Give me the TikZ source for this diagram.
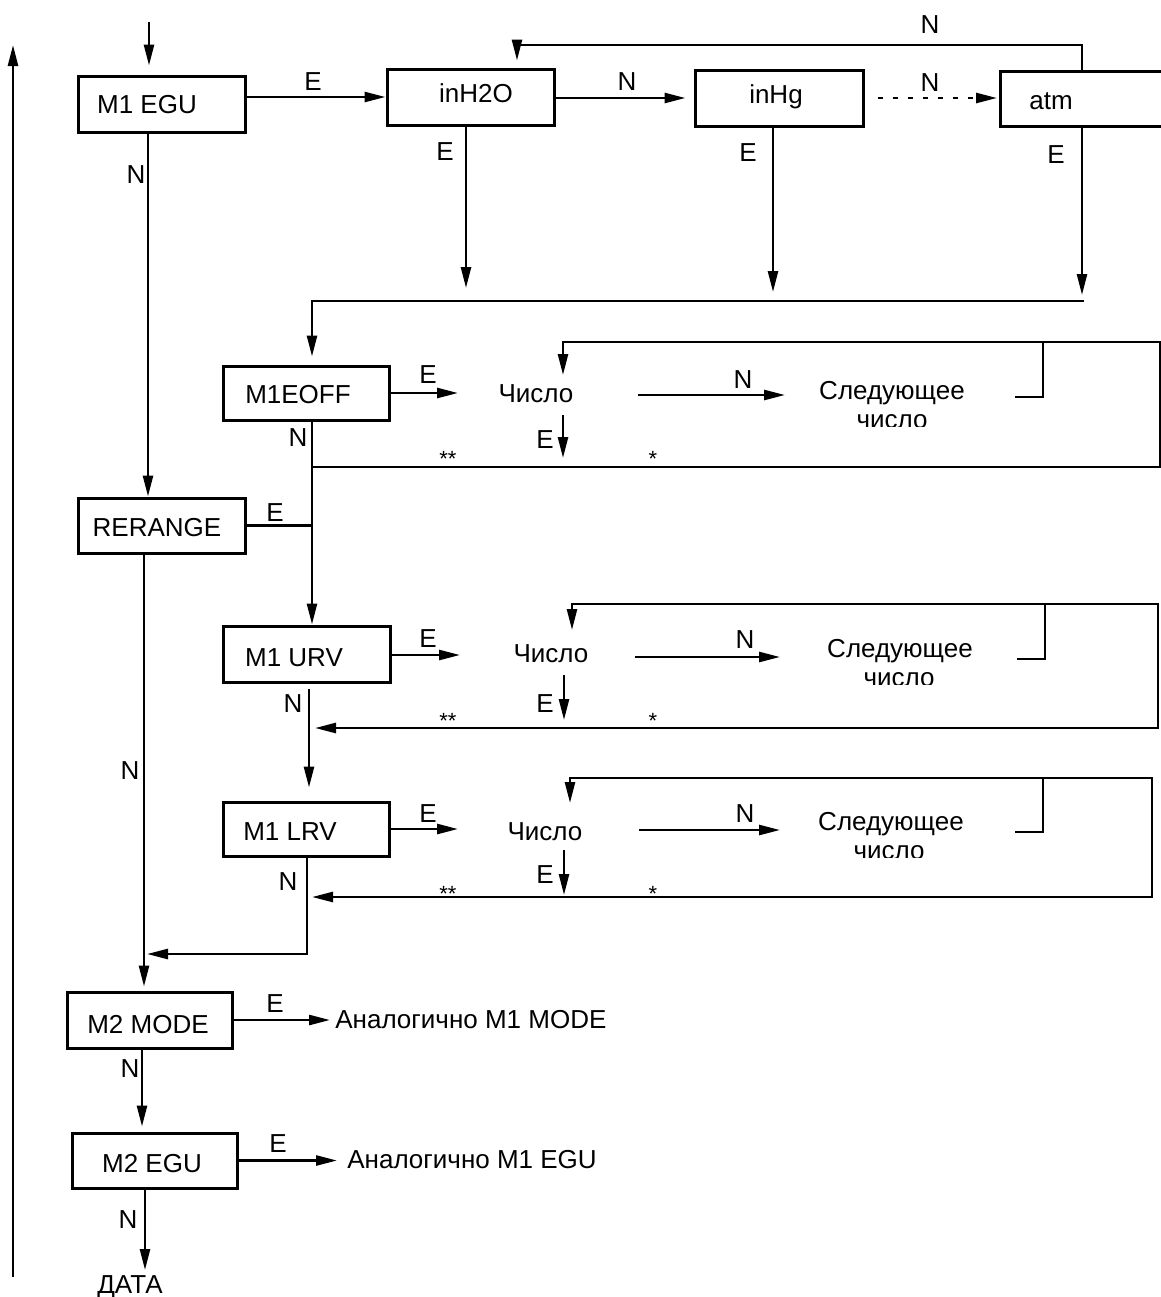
\documentclass[tikz,border=0pt]{standalone}
\usepackage{fontspec}
\setmainfont{Liberation Sans}
\usetikzlibrary{arrows.meta,calc}
\begin{document}
\begin{tikzpicture}[x=0.5pt,y=-0.5pt,
  box/.style={draw,line width=1.5pt,inner sep=0pt},
  txt/.style={inner sep=0pt,anchor=base,font=\fontsize{13pt}{15pt}\selectfont},
  star/.style={inner sep=0pt,anchor=base,font=\fontsize{11pt}{12pt}\selectfont},
  ln/.style={line width=1.3pt},
  arr/.style={line width=1.3pt,-{Triangle[length=10.5pt,width=5pt]}},
  dots/.style={dash pattern=on 2.5pt off 5pt}
]
\useasboundingbox (0,0) rectangle (1161,1297);

% ---------- boxes ----------
\node[box,minimum width=83.5pt,minimum height=28pt] (egu) at (161.5,104) {};
\node[txt] (tegu) at (147,113) {M1 EGU};
\node[box,minimum width=83.5pt,minimum height=28pt] (inh) at (470.5,97) {};
\node[txt] (tinh) at (476,102) {inH2O};
\node[box,minimum width=84pt,minimum height=28pt] (ing) at (779,98) {};
\node[txt] (ting) at (776,103) {inHg};
\draw[line width=1.5pt] (1161,71) -- (1000,71) -- (1000,126) -- (1161,126);
\node[txt] (tatm) at (1051,109) {atm};
\coordinate (atmW) at (1000,98);
\coordinate (atmN) at (1082,71);
\coordinate (atmS) at (1082,126);

\node[box,minimum width=83pt,minimum height=27pt] (eoff) at (306,393) {};
\node[txt] (teoff) at (298,403) {M1EOFF};
\node[box,minimum width=83.5pt,minimum height=27.5pt] (rer) at (161.5,525.5) {};
\node[txt] (trer) at (157,536) {RERANGE};
\node[box,minimum width=83.5pt,minimum height=28pt] (urv) at (306.5,654) {};
\node[txt] (turv) at (294,666) {M1 URV};
\node[box,minimum width=83pt,minimum height=27pt] (lrv) at (306,829) {};
\node[txt] (tlrv) at (290,840) {M1 LRV};
\node[box,minimum width=82.5pt,minimum height=28pt] (mode) at (149.5,1020) {};
\node[txt] (tmode) at (148,1033) {M2 MODE};
\node[box,minimum width=82.5pt,minimum height=27.5pt] (egu2) at (154.5,1160.5) {};
\node[txt] (tegu2) at (152,1172) {M2 EGU};

% ---------- left return line and entry ----------
\coordinate (backB) at (13,1277);
\coordinate (backT) at (13,45);
\draw[arr] (backB) -- (backT);
\coordinate (entry) at (149,22);
\draw[arr,shorten >=4.5pt] (entry) -- (entry |- egu.north);

% ---------- top row ----------
\draw[arr] (egu.east |- inh.west) -- (inh.west);
\node[txt] (lE1) at (313,90) {E};
\draw[arr,shorten >=4pt] (inh.east |- ing.west) -- (ing.west);
\node[txt] (lN1) at (627,90) {N};
\draw[arr,dots,shorten <=6.5pt,shorten >=1.5pt] (ing.east) -- (atmW);
\node[txt] (lN2) at (930,91) {N};
\coordinate (tl) at (517,45);
\draw[arr,shorten >=3.5pt] (atmN) |- (tl) -- (tl |- inh.north);
\node[txt] (lN3) at (930,33) {N};

\coordinate (d1) at (466,288);
\draw[arr] (inh.south -| d1) -- (d1);
\node[txt] (lE2) at (445,160) {E};
\coordinate (d2) at (773,292);
\draw[arr] (ing.south -| d2) -- (d2);
\node[txt] (lE3) at (748,161) {E};
\coordinate (d3) at (1082,295);
\draw[arr] (atmS) -- (d3);
\node[txt] (lE4) at (1056,163) {E};

\coordinate (c1) at (312,301);
\coordinate (c2) at (1084,301);
\draw[arr,shorten >=4pt] (c2) -- (c1) -- (c1 |- eoff.north);

% ---------- left column ----------
\coordinate (xA) at (148,0);
\draw[arr] (egu.south -| xA) -- (rer.north -| xA);
\node[txt] (lN4) at (136,183) {N};
\coordinate (xB) at (144,0);
\draw[arr,shorten >=2pt] (rer.south -| xB) -- (mode.north -| xB);
\node[txt] (lN5) at (130,779) {N};
\draw[ln] (rer.east) -- (rer.east -| c1);
\node[txt] (lE5) at (275,521) {E};
\draw[arr] (eoff.south -| c1) -- (urv.north -| c1);
\node[txt] (lN6) at (298,446) {N};

% ---------- loop 1 (M1EOFF) ----------
\coordinate (ea1) at (458,393);
\draw[arr] (eoff.east) -- (ea1);
\node[txt] (lE6) at (428,383) {E};
\node[txt] (num1) at (536,402) {Число};
\coordinate (na1) at (638,395);
\coordinate (nb1) at (785,395);
\draw[arr] (na1) -- (nb1);
\node[txt] (lN7) at (743,388) {N};
\node[txt] (nx1a) at (892,399) {Следующее};
\begin{scope}
\clip (820,405) rectangle (960,426);
\node[txt] (nx1b) at (892,428) {число};
\end{scope}
\coordinate (s1) at (1015,397);
\coordinate (k1) at (1043,342);
\coordinate (t1) at (563,342);
\coordinate (t1e) at (563,375);
\coordinate (r1) at (1160,467);
\draw[arr] (s1) -| (k1) -- (t1) -- (t1e);
\draw[ln] (k1) -| (r1) -- (r1 -| c1);
\coordinate (u1) at (563,415);
\coordinate (u1e) at (563,458);
\draw[arr] (u1) -- (u1e);
\node[txt] (lE7) at (545,448) {E};
\node[star] (st1a) at (448,466) {**};
\node[star] (st1b) at (653,466) {*};

% ---------- loop 2 (M1 URV) ----------
\coordinate (ea2) at (460,655);
\draw[arr] (urv.east |- ea2) -- (ea2);
\node[txt] (lE8) at (428,647) {E};
\node[txt] (num2) at (551,662) {Число};
\coordinate (na2) at (635,657);
\coordinate (nb2) at (780,657);
\draw[arr] (na2) -- (nb2);
\node[txt] (lN8) at (745,648) {N};
\node[txt] (nx2a) at (900,657) {Следующее};
\begin{scope}
\clip (820,665) rectangle (980,684);
\node[txt] (nx2b) at (899,686) {число};
\end{scope}
\coordinate (s2) at (1017,659);
\coordinate (k2) at (1045,604);
\coordinate (t2) at (572,604);
\coordinate (t2e) at (572,630);
\coordinate (r2) at (1158,728);
\draw[arr] (s2) -| (k2) -- (t2) -- (t2e);
\draw[arr,shorten >=1.5pt] (k2) -| (r2) -- (r2 -| c1);
\coordinate (u2) at (564,675);
\coordinate (u2e) at (564,720);
\draw[arr] (u2) -- (u2e);
\node[txt] (lE9) at (545,712) {E};
\node[star] (st2a) at (448,728) {**};
\node[star] (st2b) at (653,728) {*};

\coordinate (xD) at (309,0);
\draw[arr,shorten <=2.5pt,shorten >=6.5pt] (urv.south -| xD) -- (lrv.north -| xD);
\node[txt] (lN9) at (293,712) {N};

% ---------- loop 3 (M1 LRV) ----------
\coordinate (ea3) at (458,829);
\draw[arr] (lrv.east) -- (ea3);
\node[txt] (lE10) at (428,822) {E};
\node[txt] (num3) at (545,840) {Число};
\coordinate (na3) at (639,830);
\coordinate (nb3) at (780,830);
\draw[arr] (na3) -- (nb3);
\node[txt] (lN10) at (745,822) {N};
\node[txt] (nx3a) at (891,830) {Следующее};
\begin{scope}
\clip (820,838) rectangle (960,857);
\node[txt] (nx3b) at (889,859) {число};
\end{scope}
\coordinate (s3) at (1015,832);
\coordinate (k3) at (1043,778);
\coordinate (t3) at (570,778);
\coordinate (t3e) at (570,803);
\coordinate (r3) at (1152,897);
\draw[arr] (s3) -| (k3) -- (t3) -- (t3e);
\draw[arr,shorten >=1.5pt] (k3) -| (r3) -- (r3 -| xD);
\coordinate (u3) at (564,850);
\coordinate (u3e) at (564,895);
\draw[arr] (u3) -- (u3e);
\node[txt] (lE11) at (545,883) {E};
\node[star] (st3a) at (448,901) {**};
\node[star] (st3b) at (653,901) {*};

\coordinate (xE) at (307,954);
\coordinate (xEt) at (147,954);
\draw[arr] (lrv.south -| xE) -- (xE) -- (xEt);
\node[txt] (lN11) at (288,890) {N};

% ---------- bottom ----------
\coordinate (ma) at (330,1020);
\draw[arr] (mode.east) -- (ma);
\node[txt] (lE12) at (275,1012) {E};
\node[txt,anchor=base west] (an1) at (335,1028) {Аналогично M1 MODE};
\coordinate (xF) at (142,0);
\draw[arr,shorten >=2.5pt] (mode.south -| xF) -- (egu2.north -| xF);
\node[txt] (lN12) at (130,1077) {N};

\coordinate (mb) at (337,1160.5);
\draw[arr] (egu2.east) -- (mb);
\node[txt] (lE13) at (278,1152) {E};
\node[txt,anchor=base west] (an2) at (347,1168) {Аналогично M1 EGU};
\node[txt] (data) at (130,1293) {ДАТА};
\coordinate (dt) at (145,1270);
\draw[arr] (egu2.south -| dt) -- (dt);
\node[txt] (lN13) at (128,1228) {N};
\end{tikzpicture}
\end{document}
